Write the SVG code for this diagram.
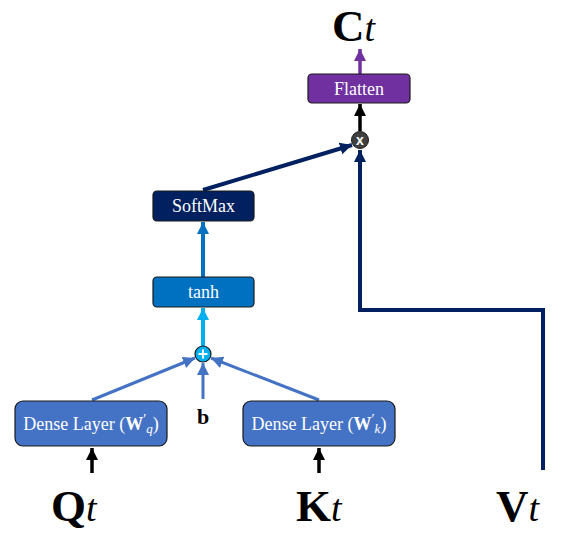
<svg xmlns="http://www.w3.org/2000/svg" width="574" height="536" viewBox="0 0 574 536">
<style>
.box{stroke:#1a1a1a;stroke-width:1.2}
.lbl{font-family:"Liberation Serif","DejaVu Serif",serif;font-size:18px;fill:#ffffff;text-anchor:middle}
.big{font-family:"Liberation Serif","DejaVu Serif",serif;font-size:45px;fill:#000;font-weight:bold}
.it{font-style:italic;font-weight:normal}
</style>
<defs>
<marker id="aBlack" markerUnits="userSpaceOnUse" markerWidth="14" markerHeight="14" refX="12" refY="6" orient="auto"><path d="M0,0 L12,6 L0,12 z" fill="#000"/></marker>
<marker id="aNavy" markerUnits="userSpaceOnUse" markerWidth="14" markerHeight="14" refX="12" refY="6" orient="auto"><path d="M0,0 L12,6 L0,12 z" fill="#002060"/></marker>
<marker id="aPurple" markerUnits="userSpaceOnUse" markerWidth="14" markerHeight="14" refX="12" refY="6" orient="auto"><path d="M0,0 L12,6 L0,12 z" fill="#7030A0"/></marker>
<marker id="aMid" markerUnits="userSpaceOnUse" markerWidth="14" markerHeight="14" refX="12" refY="6" orient="auto"><path d="M0,0 L12,6 L0,12 z" fill="#0070C0"/></marker>
<marker id="aLight" markerUnits="userSpaceOnUse" markerWidth="14" markerHeight="14" refX="12" refY="6" orient="auto"><path d="M0,0 L12,6 L0,12 z" fill="#00B0F0"/></marker>
<marker id="aDense" markerUnits="userSpaceOnUse" markerWidth="14" markerHeight="14" refX="12" refY="6" orient="auto"><path d="M0,0 L12,6 L0,12 z" fill="#4472C4"/></marker>
</defs>
<g id="connectors" fill="none">
<line x1="92" y1="473" x2="92" y2="448" stroke="#000" stroke-width="3.5" marker-end="url(#aBlack)"/>
<line x1="319" y1="473" x2="319" y2="448" stroke="#000" stroke-width="3.5" marker-end="url(#aBlack)"/>
<line x1="92" y1="400" x2="195" y2="358" stroke="#4472C4" stroke-width="3" marker-end="url(#aDense)"/>
<line x1="319" y1="400" x2="211" y2="358" stroke="#4472C4" stroke-width="3" marker-end="url(#aDense)"/>
<line x1="203" y1="399" x2="203" y2="363" stroke="#4472C4" stroke-width="3" marker-end="url(#aDense)"/>
<line x1="203" y1="346" x2="203" y2="308" stroke="#00B0F0" stroke-width="4" marker-end="url(#aLight)"/>
<line x1="203" y1="277" x2="203" y2="222" stroke="#0070C0" stroke-width="4" marker-end="url(#aMid)"/>
<line x1="203" y1="190" x2="352" y2="145" stroke="#002060" stroke-width="4" marker-end="url(#aNavy)"/>
<polyline points="543,470 543,310 360,310 360,150" stroke="#002060" stroke-width="4" marker-end="url(#aNavy)"/>
<line x1="360" y1="131" x2="360" y2="104" stroke="#000" stroke-width="3.5" marker-end="url(#aBlack)"/>
<line x1="360" y1="74" x2="360" y2="49" stroke="#7030A0" stroke-width="3.5" marker-end="url(#aPurple)"/>
</g>
<g id="denseQ">
<rect class="box" x="15" y="401" width="152" height="45" rx="8" fill="#4472C4"/>
<text class="lbl" x="91" y="430">Dense Layer (<tspan font-weight="bold">W</tspan><tspan dy="-6" font-size="14">′</tspan><tspan dy="9" font-size="13" font-style="italic">q</tspan><tspan dy="-3">)</tspan></text>
</g>
<g id="denseK">
<rect class="box" x="243" y="401" width="152" height="45" rx="8" fill="#4472C4"/>
<text class="lbl" x="319" y="430">Dense Layer (<tspan font-weight="bold">W</tspan><tspan dy="-6" font-size="14">′</tspan><tspan dy="9" font-size="13" font-style="italic">k</tspan><tspan dy="-3">)</tspan></text>
</g>
<g id="bias">
<text x="203" y="424" font-family="Liberation Serif, DejaVu Serif, serif" font-size="22" font-weight="bold" text-anchor="middle">b</text>
</g>
<g id="plus">
<circle cx="203" cy="354" r="8" fill="#00B0F0" stroke="#1a1a1a" stroke-width="1.2"/>
<path d="M198.5,354 H207.5 M203,349.5 V358.5" stroke="#fff" stroke-width="2"/>
</g>
<g id="tanh">
<rect class="box" x="153" y="277" width="101" height="30" rx="4" fill="#0070C0"/>
<text class="lbl" x="203.5" y="298">tanh</text>
</g>
<g id="softmax">
<rect class="box" x="153" y="191" width="101" height="30" rx="4" fill="#002060"/>
<text class="lbl" x="203.5" y="212">SoftMax</text>
</g>
<g id="mult">
<circle cx="360" cy="140" r="8.5" fill="#404040" stroke="#1a1a1a" stroke-width="1"/>
<text x="360" y="145" font-family="Liberation Sans, Arial, sans-serif" font-size="14" font-weight="bold" fill="#fff" text-anchor="middle">x</text>
</g>
<g id="flatten">
<rect class="box" x="308" y="74" width="102" height="29" rx="4" fill="#7030A0"/>
<text class="lbl" x="359" y="95">Flatten</text>
</g>
<g id="Ct"><text class="big" x="332" y="41">C<tspan class="it" font-size="38">t</tspan></text></g>
<g id="Qt"><text class="big" x="51" y="521">Q<tspan class="it" font-size="38">t</tspan></text></g>
<g id="Kt"><text class="big" x="296" y="521">K<tspan class="it" font-size="38">t</tspan></text></g>
<g id="Vt"><text class="big" x="496" y="521">V<tspan class="it" font-size="38">t</tspan></text></g>
</svg>
